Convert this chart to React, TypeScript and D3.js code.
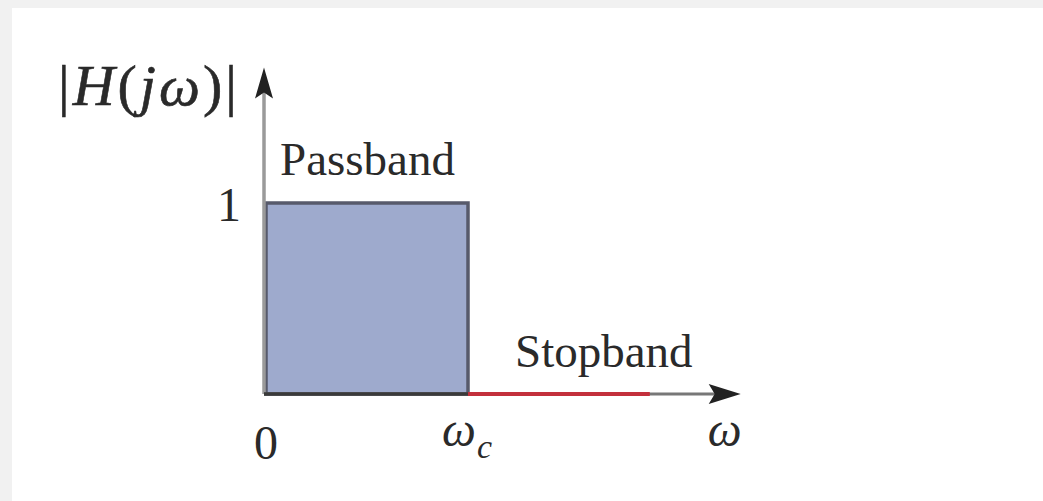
import React from "react";
import * as d3 from "d3";

// Ideal low-pass filter magnitude response
const bandEdges = [0, 1, 1.9]; // 0, ωc, end of drawn stopband
const passGain = [1, 1];
const stopGain = [0, 0];
const xTickValues = [0, 1, 2.35];
const yTickValues = [1];
const bandLabels = ["Passband", "Stopband"];
const axisMax = { x: 2.35, y: 1.71 };

const W = 1043;
const H = 501;

export default function App() {
  const x = d3.scaleLinear().domain([0, 1]).range([266, 468]);
  const y = d3.scaleLinear().domain([0, 1]).range([394, 203]);
  const serif = "'Liberation Serif', 'Times New Roman', serif";
  const textColor = "#2a2a2a";

  const passPts: [number, number][] = [
    [bandEdges[0], 0],
    [bandEdges[0], passGain[0]],
    [bandEdges[1], passGain[1]],
    [bandEdges[1], 0],
  ];
  const passPath = d3.line<[number, number]>().x((d) => x(d[0])).y((d) => y(d[1]))(passPts) + "Z";
  const stopPath = d3.line<[number, number]>().x((d) => x(d[0])).y((d) => y(d[1]))([
    [bandEdges[1], stopGain[0]],
    [bandEdges[2], stopGain[1]],
  ]);

  const x0 = x(0), y0 = y(0);
  const xEnd = x(axisMax.x), yEnd = y(axisMax.y);

  return (
    <svg width={W} height={H} style={{ position: "absolute", left: 0, top: 0 }}>
      <rect x={0} y={0} width={W} height={H} fill="#ffffff" />
      <rect x={0} y={0} width={W} height={8} fill="#f1f1f1" />
      <rect x={0} y={0} width={12} height={H} fill="#f1f1f1" />

      {/* passband rect */}
      <path d={passPath} fill="#9eaacd" stroke="#575a6b" strokeWidth={3.5} />

      {/* y axis */}
      <line x1={x0 - 2} y1={y0} x2={x0 - 2} y2={yEnd + 20} stroke="#9a9a9a" strokeWidth={3.5} />
      <path d={`M${x0 - 2},${yEnd} L${x0 - 11},${yEnd + 31} L${x0 - 2},${yEnd + 25} L${x0 + 7},${yEnd + 31} Z`} fill="#222" />

      {/* x axis */}
      <line x1={x0 - 2} y1={y0} x2={xEnd - 20} y2={y0} stroke="#777" strokeWidth={3} />
      <line x1={x0 - 2} y1={y0} x2={x(bandEdges[1])} y2={y0} stroke="#3a3a3a" strokeWidth={3.5} />
      <path d={stopPath || ""} stroke="#c3303c" strokeWidth={4} fill="none" />
      <path d={`M${xEnd},${y0} L${xEnd - 32},${y0 - 10} L${xEnd - 26},${y0} L${xEnd - 32},${y0 + 10} Z`} fill="#222" />

      {/* y axis label */}
      <text x={58} y={105} fontFamily={serif} fontSize={58} fill={textColor} stroke={textColor} strokeWidth={0.6} letterSpacing={3}>
        <tspan>|</tspan>
        <tspan fontStyle="italic">H</tspan>
        <tspan>(</tspan>
        <tspan fontStyle="italic">j</tspan>
        <tspan fontStyle="italic">ω</tspan>
        <tspan>)|</tspan>
      </text>

      {/* y tick */}
      {yTickValues.map((v) => (
        <text key={v} x={x0 - 37} y={y(v) + 18} fontFamily={serif} fontSize={48} fill={textColor} textAnchor="middle">
          {String(v)}
        </text>
      ))}

      {/* x ticks */}
      <text x={x(xTickValues[0])} y={459} fontFamily={serif} fontSize={48} fill={textColor} textAnchor="middle">0</text>
      <text x={x(xTickValues[1]) - 1} y={446} fontFamily={serif} fontSize={48} fill={textColor} textAnchor="middle">
        <tspan fontStyle="italic">ω</tspan>
        <tspan fontStyle="italic" fontSize={34} dy={12} dx={1}>c</tspan>
      </text>
      <text x={x(xTickValues[2]) - 16} y={446} fontFamily={serif} fontSize={48} fill={textColor} textAnchor="middle" fontStyle="italic">ω</text>

      {/* band labels */}
      <text x={280} y={175} fontFamily={serif} fontSize={47} fill={textColor}>{bandLabels[0]}</text>
      <text x={515} y={367} fontFamily={serif} fontSize={47} fill={textColor}>{bandLabels[1]}</text>
    </svg>
  );
}
